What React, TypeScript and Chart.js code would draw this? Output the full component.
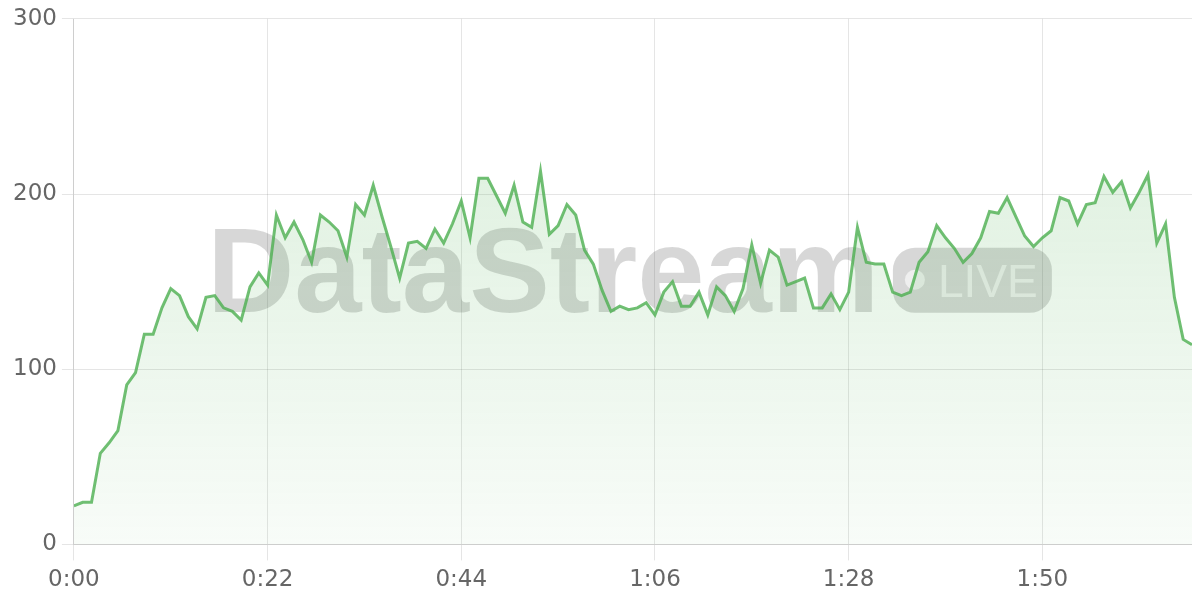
import React, { useEffect, useRef } from "react";
import { Chart, registerables } from "chart.js";

Chart.register(...registerables);

// Throughput per second (one sample per second, 0:00 .. 2:07)
const values: number[] = [
  22, 24, 24, 52, 58, 65, 91, 98, 120, 120,
  135, 146, 142, 130, 123, 141, 142, 135, 133, 128,
  147, 155, 148, 188, 175, 184, 174, 161, 188, 184,
  179, 164, 194, 188, 205, 187, 170, 152, 172, 173,
  169, 180, 172, 183, 196, 175, 209, 209, 199, 189,
  205, 184, 181, 213, 177, 182, 194, 188, 168, 160,
  145, 133, 136, 134, 135, 138, 131, 144, 150, 136,
  136, 144, 131, 147, 142, 133, 146, 171, 149, 168,
  164, 148, 150, 152, 135, 135, 143, 134, 144, 181,
  161, 160, 160, 144, 142, 144, 161, 167, 182, 175,
  169, 161, 166, 175, 190, 189, 198, 187, 176, 170,
  175, 179, 198, 196, 183, 194, 195, 210, 201, 207,
  192, 201, 211, 172, 183, 141, 117, 114,
];

// Elapsed seconds for each sample
const seconds: number[] = values.map((_, i) => i);

const xTickStep = 22;
const yTicks: number[] = [0, 100, 200, 300];

const watermarkText = "DataStream";
const badgeText = "LIVE";

const fmtTime = (s: number) => {
  const m = Math.floor(s / 60);
  const r = Math.round(s % 60);
  return `${m}:${r < 10 ? "0" : ""}${r}`;
};

const watermarkPlugin = {
  id: "watermark",
  beforeDatasetsDraw(chart: any) {
    const { ctx, chartArea } = chart;
    const { left, top } = chartArea;
    ctx.save();
    ctx.fillStyle = "rgba(0,0,0,0.155)";
    ctx.font = "bold 121px 'Liberation Sans', Arial, sans-serif";
    ctx.textBaseline = "alphabetic";
    ctx.textAlign = "left";
    ctx.fillText(watermarkText, left + 133, top + 293);

    // badge
    const bx = left + 819;
    const by = top + 229;
    const bw = 159;
    const bh = 65;
    const r = 22;
    ctx.beginPath();
    ctx.moveTo(bx + r, by);
    ctx.lineTo(bx + bw - r, by);
    ctx.arcTo(bx + bw, by, bx + bw, by + r, r);
    ctx.lineTo(bx + bw, by + bh - r);
    ctx.arcTo(bx + bw, by + bh, bx + bw - r, by + bh, r);
    ctx.lineTo(bx + r, by + bh);
    ctx.arcTo(bx, by + bh, bx, by + bh - r, r);
    ctx.lineTo(bx, by + r);
    ctx.arcTo(bx, by, bx + r, by, r);
    ctx.closePath();
    ctx.fill();

    ctx.fillStyle = "rgba(255,255,255,0.6)";
    ctx.beginPath();
    ctx.arc(bx + 22, by + 32, 10, 0, Math.PI * 2);
    ctx.fill();
    ctx.font = "46px 'Liberation Sans', Arial, sans-serif";
    ctx.fillText(badgeText, bx + 45, by + 49);
    ctx.restore();
  },
};

export default function App() {
  const canvasRef = useRef<HTMLCanvasElement | null>(null);

  useEffect(() => {
    const canvas = canvasRef.current;
    if (!canvas) return;
    const chart = new Chart(canvas, {
      type: "line",
      data: {
        labels: seconds,
        datasets: [
          {
            data: values,
            borderColor: "rgba(76,175,80,0.8)",
            borderWidth: 3,
            pointRadius: 0,
            tension: 0,
            fill: "origin",
            backgroundColor: (c: any) => {
              const area = c.chart.chartArea;
              if (!area) return "rgba(76,175,80,0.12)";
              const g = c.chart.ctx.createLinearGradient(0, area.top, 0, area.bottom);
              g.addColorStop(0, "rgba(76,175,80,0.22)");
              g.addColorStop(1, "rgba(76,175,80,0.04)");
              return g;
            },
          },
        ],
      },
      options: {
        animation: false,
        responsive: true,
        maintainAspectRatio: false,
        plugins: {
          legend: { display: false },
          tooltip: { enabled: false },
        },
        scales: {
          x: {
            type: "linear",
            min: seconds[0],
            max: seconds[seconds.length - 1],
            grid: { tickLength: 16 },
            ticks: {
              stepSize: xTickStep,
              includeBounds: false,
              maxRotation: 0,
              padding: 6,
              color: "#666",
              font: { family: "'DejaVu Sans', sans-serif", size: 23 },
              callback: (v: any) => fmtTime(Number(v)),
            },
          },
          y: {
            min: yTicks[0],
            max: yTicks[yTicks.length - 1],
            grid: { tickLength: 12 },
            ticks: {
              stepSize: 100,
              padding: 5,
              color: "#666",
              font: { family: "'DejaVu Sans', sans-serif", size: 23 },
            },
          },
        },
      },
      plugins: [watermarkPlugin],
    });
    return () => chart.destroy();
  }, []);

  return (
    <div style={{ position: "relative", width: "100%", height: 600, marginTop: -8 }}>
      <canvas ref={canvasRef} />
    </div>
  );
}
